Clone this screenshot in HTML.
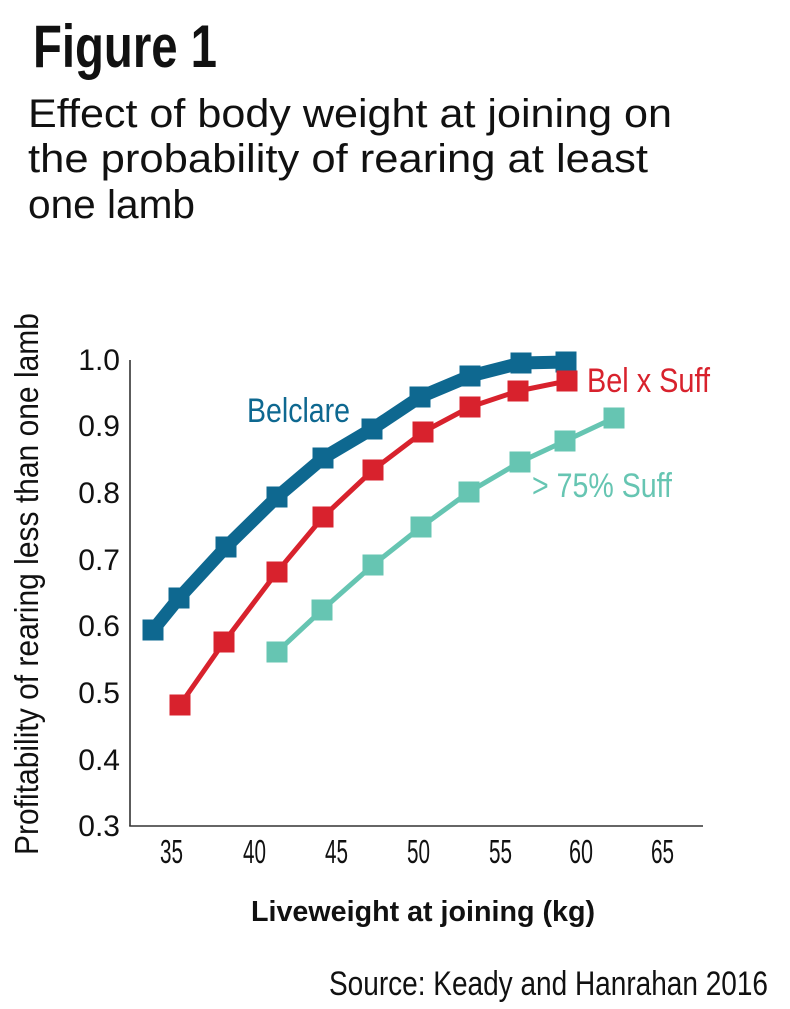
<!DOCTYPE html>
<html>
<head>
<meta charset="utf-8">
<style>
  html, body { margin: 0; padding: 0; background: #ffffff; }
  body { width: 790px; height: 1009px; overflow: hidden; }
  svg { display: block; }
  text { font-family: "Liberation Sans", "DejaVu Sans", sans-serif; }
</style>
</head>
<body>
<svg width="790" height="1009" viewBox="0 0 790 1009" xmlns="http://www.w3.org/2000/svg">
  <rect x="0" y="0" width="790" height="1009" fill="#ffffff"/>

  <!-- Title -->
  <text x="33" y="67" font-size="60" font-weight="bold" fill="#111" textLength="184" lengthAdjust="spacingAndGlyphs">Figure 1</text>
  <text x="28" y="127" font-size="39.5" fill="#111" textLength="644" lengthAdjust="spacingAndGlyphs">Effect of body weight at joining on</text>
  <text x="28" y="172" font-size="39.5" fill="#111" textLength="620" lengthAdjust="spacingAndGlyphs">the probability of rearing at least</text>
  <text x="28" y="218" font-size="39.5" fill="#111" textLength="167" lengthAdjust="spacingAndGlyphs">one lamb</text>

  <!-- Y axis label -->
  <text transform="translate(38,855) rotate(-90)" font-size="33" fill="#111" textLength="542" lengthAdjust="spacingAndGlyphs">Profitability of rearing less than one lamb</text>

  <!-- Axes -->
  <line x1="130" y1="360" x2="130" y2="826" stroke="#333" stroke-width="1.6"/>
  <line x1="129.2" y1="826" x2="703" y2="826" stroke="#333" stroke-width="1.6"/>

  <!-- Y tick labels -->
  <g font-size="30" fill="#111" text-anchor="end">
    <text x="120" y="370">1.0</text>
    <text x="120" y="436">0.9</text>
    <text x="120" y="503">0.8</text>
    <text x="120" y="570">0.7</text>
    <text x="120" y="636">0.6</text>
    <text x="120" y="703">0.5</text>
    <text x="120" y="770">0.4</text>
    <text x="120" y="836">0.3</text>
  </g>

  <!-- X tick labels -->
  <g font-size="33" fill="#111">
    <text x="160" y="863" textLength="23" lengthAdjust="spacingAndGlyphs">35</text>
    <text x="243" y="863" textLength="23" lengthAdjust="spacingAndGlyphs">40</text>
    <text x="325" y="863" textLength="23" lengthAdjust="spacingAndGlyphs">45</text>
    <text x="407" y="863" textLength="23" lengthAdjust="spacingAndGlyphs">50</text>
    <text x="489" y="863" textLength="23" lengthAdjust="spacingAndGlyphs">55</text>
    <text x="569" y="863" textLength="24" lengthAdjust="spacingAndGlyphs">60</text>
    <text x="651" y="863" textLength="23" lengthAdjust="spacingAndGlyphs">65</text>
  </g>

  <!-- X axis label -->
  <text x="251" y="921" font-size="29" font-weight="bold" fill="#111" textLength="344" lengthAdjust="spacingAndGlyphs">Liveweight at joining (kg)</text>

  <!-- Source -->
  <text x="329" y="995" font-size="34" fill="#111" textLength="439" lengthAdjust="spacingAndGlyphs">Source: Keady and Hanrahan 2016</text>

  <!-- Teal series (>75% Suff) -->
  <polyline fill="none" stroke="#66c5b2" stroke-width="5" stroke-linejoin="round"
    points="277,652 322,610 373,565 421,527 469,492 520,462 565,441 614,418"/>
  <g fill="#66c5b2">
    <rect x="266.5" y="641.5" width="21" height="21"/>
    <rect x="311.5" y="599.5" width="21" height="21"/>
    <rect x="362.5" y="554.5" width="21" height="21"/>
    <rect x="410.5" y="516.5" width="21" height="21"/>
    <rect x="458.5" y="481.5" width="21" height="21"/>
    <rect x="509.5" y="451.5" width="21" height="21"/>
    <rect x="554.5" y="430.5" width="21" height="21"/>
    <rect x="603.5" y="407.5" width="21" height="21"/>
  </g>

  <!-- Blue series (Belclare) -->
  <polyline fill="none" stroke="#0e6890" stroke-width="13" stroke-linejoin="round"
    points="153,630 179,598 226,547 277,497 323,458 372,429 420,397 470,376 521,363 566,362"/>
  <g fill="#0e6890">
    <rect x="142.5" y="619.5" width="21" height="21"/>
    <rect x="168.5" y="587.5" width="21" height="21"/>
    <rect x="215.5" y="536.5" width="21" height="21"/>
    <rect x="266.5" y="486.5" width="21" height="21"/>
    <rect x="312.5" y="447.5" width="21" height="21"/>
    <rect x="361.5" y="418.5" width="21" height="21"/>
    <rect x="409.5" y="386.5" width="21" height="21"/>
    <rect x="459.5" y="365.5" width="21" height="21"/>
    <rect x="510.5" y="352.5" width="21" height="21"/>
    <rect x="555.5" y="351.5" width="21" height="21"/>
  </g>

  <!-- Red series (Bel x Suff) -->
  <polyline fill="none" stroke="#d8222d" stroke-width="5" stroke-linejoin="round"
    points="180,705 224,642 277,572 323,517 373,470 423,432 470,407 518,391 567,381"/>
  <g fill="#d8222d">
    <rect x="169.5" y="694.5" width="21" height="21"/>
    <rect x="213.5" y="631.5" width="21" height="21"/>
    <rect x="266.5" y="561.5" width="21" height="21"/>
    <rect x="312.5" y="506.5" width="21" height="21"/>
    <rect x="362.5" y="459.5" width="21" height="21"/>
    <rect x="412.5" y="421.5" width="21" height="21"/>
    <rect x="459.5" y="396.5" width="21" height="21"/>
    <rect x="507.5" y="380.5" width="21" height="21"/>
    <rect x="556.5" y="370.5" width="21" height="21"/>
  </g>

  <!-- Series labels -->
  <text x="247" y="422" font-size="34" fill="#0e6890" textLength="103" lengthAdjust="spacingAndGlyphs">Belclare</text>
  <text x="587" y="392" font-size="34" fill="#d8222d" textLength="123" lengthAdjust="spacingAndGlyphs">Bel x Suff</text>
  <text x="532" y="497" font-size="34" fill="#66c5b2" textLength="140" lengthAdjust="spacingAndGlyphs">&gt; 75% Suff</text>
</svg>
</body>
</html>
